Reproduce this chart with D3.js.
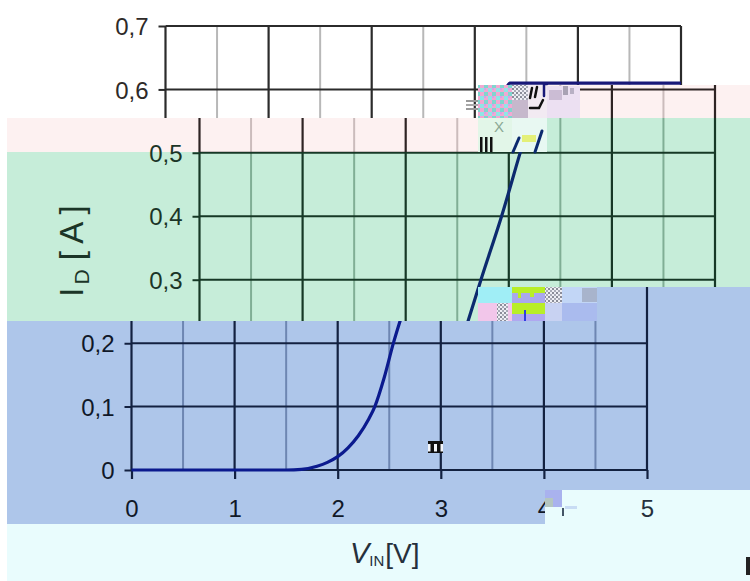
<!DOCTYPE html>
<html><head><meta charset="utf-8">
<script src="https://cdn.jsdelivr.net/npm/d3@7"></script>
<style>html,body{margin:0;padding:0;background:#fff;overflow:hidden}</style>
</head><body><svg id="c" width="750" height="581"></svg>
<script>
// ---- data ----
const vin = [0, 1, 1.5, 1.65, 1.8, 1.9, 2.0, 2.1, 2.2, 2.3, 2.36, 2.45, 2.54, 2.63, 2.73, 2.93, 3.11, 3.25, 3.3, 3.34, 4, 5];
const idA = [0, 0, 0, 0.001, 0.006, 0.012, 0.021, 0.035, 0.054, 0.08, 0.1, 0.145, 0.2, 0.248, 0.3, 0.4, 0.5, 0.575, 0.6, 0.61, 0.61, 0.61];
const xTicks = [0, 1, 2, 3, 4, 5];
const xTickLabels = ["0", "1", "2", "3", "4", "5"];
const xMinor = [0.5, 1.5, 2.5, 3.5, 4.5];
const yTicks = [0, 0.1, 0.2, 0.3, 0.4, 0.5, 0.6, 0.7];
const yTickLabels = ["0", "0,1", "0,2", "0,3", "0,4", "0,5", "0,6", "0,7"];
const yTitle = ["I", "D", " [ A ]"];
const xTitle = ["V", "IN", "[V]"];

const svg = d3.select("#c");
const x = d3.scaleLinear().domain([0, 5]).range([165.5, 681]);
const y = d3.scaleLinear().domain([0, 0.7]).range([470, 26]);
const FONT = '"Liberation Sans", Arial, sans-serif';

// image bands (colour shift + horizontal displacement)
const bands = [
  {id: "A", shift: 0,   bg: "#ffffff", major: "#2b2b2b", minor: "#b8b8b8", curve: "#181878", text: "#2e2a28",
   clip: [[0, 0, 750, 85], [0, 85, 478, 33]]},
  {id: "B", shift: 34,  bg: "#fdf1f1", major: "#2e2424", minor: "#cbbcbc", curve: "#1a1a70", text: "#2a2020",
   clip: [[547, 85, 203, 33], [7, 118, 471, 34]]},
  {id: "C", shift: 34,  bg: "#c6edd9", major: "#163826", minor: "#80ae95", curve: "#0c2a6e", text: "#1b3527",
   clip: [[547, 118, 203, 34], [7, 152, 743, 135], [7, 287, 471, 34]]},
  {id: "D", shift: -34, bg: "#aec6ea", major: "#132140", minor: "#6e86b2", curve: "#0b1a8e", text: "#101828",
   clip: [[597, 287, 153, 34], [7, 321, 743, 169], [7, 490, 538, 34]]},
  {id: "E", shift: -34, bg: "#e9fcfd", major: "#1a2a3a", minor: "#9ab0c0", curve: "#0b1a8e", text: "#25303c",
   clip: [[562, 490, 188, 34], [7, 524, 743, 57]]}
];
const bandOf = id => bands.find(b => b.id === id);

const defs = svg.append("defs");
bands.forEach(b => {
  defs.append("clipPath").attr("id", "clip" + b.id)
    .selectAll("rect").data(b.clip).join("rect")
    .attr("x", d => d[0]).attr("y", d => d[1]).attr("width", d => d[2]).attr("height", d => d[3]);
});

function drawChart(g, p) {
  g.selectAll("line.mn").data(xMinor).join("line").attr("class", "mn")
    .attr("x1", d => x(d)).attr("x2", d => x(d)).attr("y1", y(0)).attr("y2", y(0.7))
    .attr("stroke", p.minor).attr("stroke-width", 2);
  g.selectAll("line.hg").data(yTicks).join("line").attr("class", "hg")
    .attr("x1", x(0)).attr("x2", x(5)).attr("y1", d => y(d)).attr("y2", d => y(d))
    .attr("stroke", p.major).attr("stroke-width", 2);
  g.selectAll("line.mj").data(xTicks).join("line").attr("class", "mj")
    .attr("x1", d => x(d)).attr("x2", d => x(d)).attr("y1", y(0)).attr("y2", y(0.7))
    .attr("stroke", p.major).attr("stroke-width", 2.2);

  // tick marks (labels are drawn in a separate layer)
  const ay = g.append("g").attr("transform", `translate(${x(0)},0)`)
    .call(d3.axisLeft(y).tickValues(yTicks).tickFormat("").tickSize(7).tickSizeOuter(0));
  ay.select(".domain").remove();
  ay.selectAll("line").attr("stroke", p.major).attr("stroke-width", 2);
  const ax = g.append("g").attr("transform", `translate(0,${y(0)})`)
    .call(d3.axisBottom(x).tickValues(xTicks).tickFormat("").tickSize(9).tickSizeOuter(0));
  ax.select(".domain").remove();
  ax.selectAll("line").attr("stroke", p.major).attr("stroke-width", 2.2);

  g.append("path").datum(vin.map((v, i) => [v, idA[i]]))
    .attr("d", d3.line().x(d => x(d[0])).y(d => y(d[1])).curve(d3.curveMonotoneX))
    .attr("fill", "none").attr("stroke", p.curve).attr("stroke-width", 3.2).attr("stroke-linejoin", "round");
}

bands.forEach(b => {
  const bg = svg.append("g").attr("clip-path", `url(#clip${b.id})`);
  bg.append("rect").attr("x", 0).attr("y", 0).attr("width", 750).attr("height", 581).attr("fill", b.bg);
  drawChart(bg.append("g").attr("transform", `translate(${b.shift},0)`), b);
});

// ---- text layer: each label drawn once, with the displacement of the band it shows in ----
function yLabels(vals, band) {
  const g = svg.append("g").attr("transform", `translate(${x(0) + band.shift},0)`)
    .call(d3.axisLeft(y).tickValues(vals).tickFormat(d => yTickLabels[yTicks.indexOf(d)]).tickSize(0).tickSizeOuter(0));
  g.select(".domain").remove();
  g.selectAll("line").remove();
  g.selectAll("text").attr("x", -17).attr("dy", "0.36em").attr("fill", band.text)
    .style("font-family", FONT).style("font-size", "24px");
}
function xLabels(vals, band) {
  const g = svg.append("g").attr("transform", `translate(${band.shift},${y(0)})`)
    .call(d3.axisBottom(x).tickValues(vals).tickFormat(d => xTickLabels[xTicks.indexOf(d)]).tickSize(0).tickSizeOuter(0));
  g.select(".domain").remove();
  g.selectAll("line").remove();
  g.selectAll("text").attr("y", 47).attr("dy", 0).attr("fill", band.text)
    .style("font-family", FONT).style("font-size", "24px");
}
yLabels([0.6, 0.7], bandOf("A"));
yLabels([0.3, 0.4, 0.5], bandOf("C"));
yLabels([0, 0.1, 0.2], bandOf("D"));
xLabels([0, 1, 2, 3, 4], bandOf("D"));
xLabels([5], bandOf("E"));

// y title (band C)
{
  const b = bandOf("C");
  const yt = svg.append("text").attr("transform", `translate(${49 + b.shift},251) rotate(-90)`)
    .attr("text-anchor", "middle").attr("fill", b.text).style("font-family", FONT).style("font-size", "33px");
  yt.append("tspan").text(yTitle[0]);
  yt.append("tspan").attr("dx", 3).attr("dy", 6).style("font-size", "21px").text(yTitle[1]);
  yt.append("tspan").attr("dy", -6).text(yTitle[2]);
}
// x title (band E)
{
  const b = bandOf("E");
  const xt = svg.append("text").attr("transform", `translate(${384 + b.shift},563)`)
    .attr("text-anchor", "start").attr("fill", b.text).style("font-family", FONT).style("font-size", "29px");
  xt.append("tspan").style("font-style", "italic").text(xTitle[0]);
  xt.append("tspan").attr("dx", 0).attr("dy", 3).style("font-size", "15px").text(xTitle[1]);
  xt.append("tspan").attr("dx", 1).attr("dy", -3).style("font-size", "28px").text(xTitle[2]);
}

// ---- glitch blocks ----
const pat1 = defs.append("pattern").attr("id", "chk1").attr("width", 8).attr("height", 8).attr("patternUnits", "userSpaceOnUse");
pat1.append("rect").attr("width", 8).attr("height", 8).attr("fill", "#f2a8d2");
pat1.append("rect").attr("width", 4).attr("height", 4).attr("fill", "#8ee6e6");
pat1.append("rect").attr("x", 4).attr("y", 4).attr("width", 4).attr("height", 4).attr("fill", "#7fd6cf");
pat1.append("rect").attr("x", 4).attr("y", 0).attr("width", 2).attr("height", 2).attr("fill", "#d8a0e8");
const pat2 = defs.append("pattern").attr("id", "chk2").attr("width", 4).attr("height", 4).attr("patternUnits", "userSpaceOnUse");
pat2.append("rect").attr("width", 4).attr("height", 4).attr("fill", "#eeeef4");
pat2.append("rect").attr("width", 2).attr("height", 2).attr("fill", "#8a8c98");
pat2.append("rect").attr("x", 2).attr("y", 2).attr("width", 2).attr("height", 2).attr("fill", "#a8aab6");

const glitch = [
  [466, 100, 12, 2, "#9a9a9a"], [466, 104, 12, 2, "#a8a8a8"], [466, 108, 12, 2, "#9a9a9a"],
  [478, 85, 34, 33, "url(#chk1)"],
  [512, 85, 16, 15, "url(#chk2)"], [512, 100, 16, 18, "#c6b8cc"],
  [528, 85, 19, 33, "#f2eaf2"],
  [547, 86, 33, 32, "#ece0f2"], [549, 90, 13, 10, "#cbbcd4"], [563, 86, 5, 9, "#a9a2b4"], [570, 88, 4, 6, "#b8b0c4"],
  [478, 118, 34, 34, "#e2f6e8"], [512, 118, 35, 34, "#e8f8f2"],
  [480, 137, 2.5, 15, "#111"], [485, 137, 2.5, 15, "#111"], [490, 137, 2.5, 15, "#111"],
  [522, 135, 14, 7, "#e4f078"],
  [478, 287, 34, 16, "#a0eef6"], [478, 303, 34, 18, "#f2c6ea"], [497, 303, 11, 18, "url(#chk2)"],
  [512, 287, 33, 16, "#aaa8ee"], [512, 287, 33, 6, "#b8ee28"], [518, 293, 3, 5, "#b8ee28"], [530, 293, 4, 4, "#b8ee28"],
  [512, 303, 33, 11, "#b8ee28"], [512, 314, 33, 7, "#b0a8f0"], [524, 310, 2, 11, "#3040e0"],
  [545, 287, 17, 16, "url(#chk2)"], [545, 303, 17, 18, "#c8d2f2"],
  [562, 287, 35, 16, "#c2d6f6"], [582, 288, 15, 14, "#a8b4cc"], [562, 303, 35, 18, "#aabbee"],
  [545, 490, 17, 17, "#a9b2ee"], [545, 498, 8, 9, "#b4c6c0"], [545, 507, 17, 17, "#e9fcfd"],
  [565, 506, 12, 3, "#c8dcf4"], [562, 508, 2, 8, "#445566"],
  [746, 557, 4, 18, "#222"]
];
svg.append("g").selectAll("rect").data(glitch).join("rect")
  .attr("x", d => d[0]).attr("y", d => d[1]).attr("width", d => d[2]).attr("height", d => d[3]).attr("fill", d => d[4]);

const gl = svg.append("g").attr("fill", "none").attr("stroke-linecap", "round");
gl.append("path").attr("d", "M513,152 L519,138").attr("stroke", "#0c2a6e").attr("stroke-width", 3);
gl.append("path").attr("d", "M535,152 L542,131").attr("stroke", "#0c2a6e").attr("stroke-width", 3);
gl.append("path").attr("d", "M532,88 L530,98 M537,87 L535,97 M530,108 L539,108 L543,100").attr("stroke", "#111").attr("stroke-width", 2.5);
gl.append("path").attr("d", "M544,96 L544,84 L547,84").attr("stroke", "#181878").attr("stroke-width", 2.5);
svg.append("text").attr("x", 494).attr("y", 132).attr("fill", "#8aa894").style("font-family", FONT).style("font-size", "15px").text("X");

const art = svg.append("g");
art.append("rect").attr("x", 428).attr("y", 441).attr("width", 15).attr("height", 12).attr("fill", "#f4f6fa");
art.append("rect").attr("x", 428).attr("y", 441).attr("width", 15).attr("height", 3).attr("fill", "#111");
art.append("rect").attr("x", 430.5).attr("y", 444).attr("width", 3.5).attr("height", 8).attr("fill", "#111");
art.append("rect").attr("x", 437).attr("y", 444).attr("width", 3.5).attr("height", 8).attr("fill", "#111");
art.append("rect").attr("x", 428).attr("y", 451.5).attr("width", 15).attr("height", 1.5).attr("fill", "#111");
</script></body></html>
